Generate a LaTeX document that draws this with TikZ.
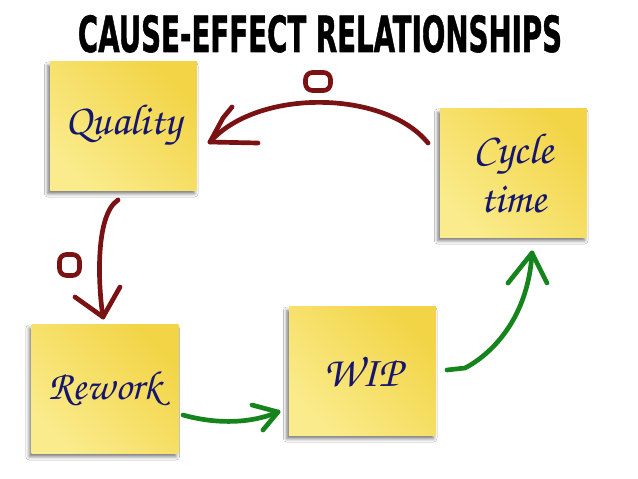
\documentclass[tikz,border=0pt]{standalone}
\usepackage[T1]{fontenc}
\usepackage{fontspec}
\usepackage{graphicx}
\usetikzlibrary{shadows.blur}

\newfontfamily\titlefont{DejaVu Sans Condensed}[FakeBold=1.2]
\definecolor{notelight}{RGB}{250,236,140}
\definecolor{notedark}{RGB}{243,212,70}
\definecolor{inkblue}{RGB}{22,22,110}
\definecolor{redpen}{RGB}{122,18,20}
\definecolor{greenpen}{RGB}{22,132,28}

\begin{document}
\begin{tikzpicture}[x=0.03cm,y=-0.03cm,
  note/.style={shade, left color=notelight, right color=notedark, shading angle=135,
    minimum width=4.4cm, minimum height=3.84cm, inner sep=0pt,
    blur shadow={shadow xshift=-2pt, shadow yshift=-3pt, shadow blur radius=3pt, shadow opacity=55},
    align=center, text=inkblue,
    font={\fontencoding{T1}\fontfamily{pzc}\fontseries{mb}\fontshape{it}\fontsize{37}{42}\selectfont}},
  pen/.style={line width=4pt, line cap=round, line join=round},
  omark/.style={draw=redpen, pen, rounded corners=6pt, inner sep=0pt}]

\fill[white] (0,0) rectangle (638,479);
\useasboundingbox (0,0) rectangle (638,479);

% Title
\node[inner sep=0pt, anchor=base] (title) at (320,52)
  {\resizebox{14.52cm}{1.11cm}{\titlefont\bfseries CAUSE-EFFECT RELATIONSHIPS}};

% Sticky notes
\node[note] (quality) at (123.5,126) {Quality};
\node[note] (cycle) at (513.5,173) {Cycle\\time};
\node[note, font={\fontencoding{T1}\fontfamily{pzc}\fontseries{mb}\fontshape{it}\fontsize{35}{42}\selectfont}] (rework) at (105,389) {Rework};
\node[note] (wip) at (362.5,371) {WIP};

% Arrow ends
\coordinate (c-out) at (428,143);
\coordinate (q-in) at (210,142);
\coordinate (q-out) at (118,200);
\coordinate (r-in) at (103,317);
\coordinate (r-out) at (183,415);
\coordinate (w-in) at (278,412);
\coordinate (w-out) at (447,370);
\coordinate (c-in) at (532,253);

% Negative links (red)
\draw[pen, redpen] (c-out) .. controls (385,90) and (258,88) .. (q-in);
\draw[pen, redpen] (q-in) -- ++(13,-24) -- ++(9,-11) (q-in) -- ++(48,1);
\node[omark, minimum width=0.75cm, minimum height=0.54cm] (o-top) at (318,81.5) {};

\draw[pen, redpen] (q-out) .. controls (95,215) and (98,285) .. (r-in);
\draw[pen, redpen] (r-in) -- ++(-28,-20) (r-in) -- ++(17,-30);
\node[omark, minimum width=0.6cm, minimum height=0.63cm] (o-left) at (69.5,265) {};

% Positive links (green)
\draw[pen, greenpen] (r-out) .. controls (215,424) and (250,424) .. (w-in);
\draw[pen, greenpen] (w-in) -- ++(-26,-7) (w-in) -- ++(-15,18);

\draw[pen, greenpen] (w-out) -- (465,368) .. controls (490,355) and (528,320) .. (c-in);
\draw[pen, greenpen] (c-in) -- ++(-24,30) (c-in) -- ++(15,30);
\end{tikzpicture}
\end{document}
